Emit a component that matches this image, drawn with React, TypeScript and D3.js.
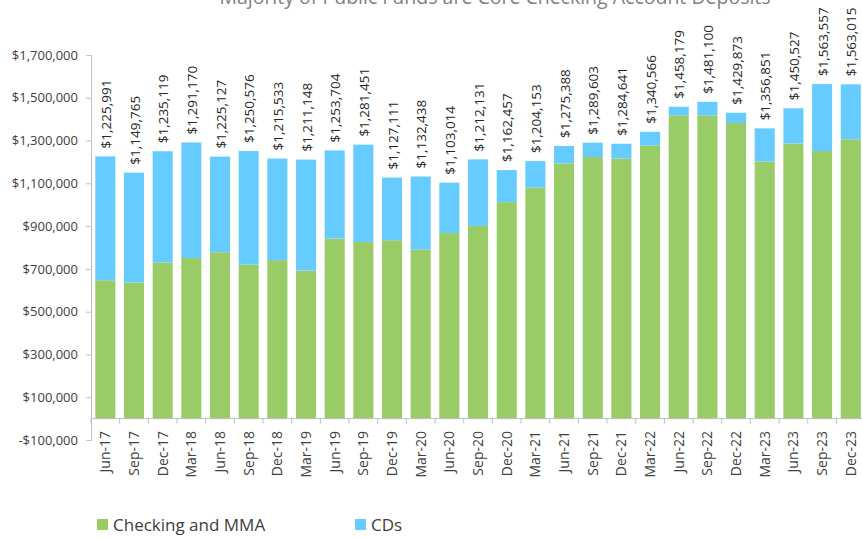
import { useRef, useEffect } from "react";
import * as d3 from "d3";

const categories = [
  "Jun-17", "Sep-17", "Dec-17", "Mar-18", "Jun-18", "Sep-18", "Dec-18",
  "Mar-19", "Jun-19", "Sep-19", "Dec-19", "Mar-20", "Jun-20", "Sep-20",
  "Dec-20", "Mar-21", "Jun-21", "Sep-21", "Dec-21", "Mar-22", "Jun-22",
  "Sep-22", "Dec-22", "Mar-23", "Jun-23", "Sep-23", "Dec-23",
];

// Checking and MMA (green)
const checking = [
  647000, 636000, 730000, 751000, 778000, 720000, 741000, 692000, 842000,
  826000, 834000, 790000, 868000, 901000, 1012000, 1080000, 1193000, 1223000,
  1216000, 1277000, 1418000, 1418000, 1382000, 1202000, 1286000, 1251000,
  1306000,
];

// CDs (blue)
const cds = [
  579000, 514000, 520000, 540000, 447000, 531000, 475000, 519000, 412000,
  455000, 293000, 342000, 235000, 311000, 150000, 124000, 82000, 67000,
  69000, 64000, 40000, 63000, 48000, 155000, 165000, 313000, 257000,
];

// labels printed above each bar
const totals = [
  1225991, 1149765, 1235119, 1291170, 1225127, 1250576, 1215533, 1211148,
  1253704, 1281451, 1127111, 1132438, 1103014, 1212131, 1162457, 1204153,
  1275388, 1289603, 1284641, 1340566, 1458179, 1481100, 1429873, 1356851,
  1450527, 1563557, 1563015,
];

const yTicks = [
  -100000, 100000, 300000, 500000, 700000, 900000, 1100000, 1300000, 1500000,
  1700000,
];

const seriesNames = ["Checking and MMA", "CDs"];
const colors = ["#99CC66", "#66CCFF"];

const width = 862;
const height = 539;
const font = "'Open Sans', 'Noto Sans', sans-serif";

function App() {
  const svgRef = useRef<SVGSVGElement>(null);

  useEffect(() => {
    const svg = d3.select(svgRef.current);
    svg.selectAll("*").remove();

    const left = 91;
    const step = 28.67;
    const x = d3
      .scaleBand()
      .domain(categories)
      .range([left, left + step * categories.length])
      .paddingInner(0.3)
      .paddingOuter(0.15);

    const y = d3.scaleLinear().domain([-100000, 1700000]).range([440, 55]);

    const fmt = d3.format(",");
    const money = (v: number) => (v < 0 ? "-$" + fmt(-v) : "$" + fmt(v));

    // title (cut at the top in the original)
    svg
      .append("text")
      .attr("x", 495)
      .attr("y", 4)
      .attr("text-anchor", "middle")
      .attr("font-family", font)
      .attr("font-size", 19.5)
      .attr("fill", "#808080")
      .text("Majority of Public Funds are Core Checking Account Deposits");

    const rows = categories.map((c, i) => ({
      cat: c,
      checking: checking[i],
      cds: cds[i],
      total: totals[i],
    }));

    const stacked = d3.stack<any>().keys(["checking", "cds"])(rows);

    svg
      .append("g")
      .selectAll("g")
      .data(stacked)
      .join("g")
      .attr("fill", (_d, i) => colors[i])
      .selectAll("rect")
      .data((d) => d)
      .join("rect")
      .attr("x", (d: any) => x(d.data.cat)!)
      .attr("width", x.bandwidth())
      .attr("y", (d) => y(d[1]))
      .attr("height", (d) => y(d[0]) - y(d[1]));

    // y axis
    const yAxis = svg.append("g").attr("transform", `translate(${left},0)`);
    yAxis
      .call(
        d3
          .axisLeft(y)
          .tickValues(yTicks)
          .tickSize(5)
          .tickPadding(8)
          .tickFormat((v) => money(+v))
      )
      .call((g) => g.select(".domain").attr("stroke", "#BFBFBF"))
      .call((g) => g.selectAll(".tick line").attr("stroke", "#BFBFBF"))
      .call((g) =>
        g
          .selectAll(".tick text")
          .attr("font-family", font)
          .attr("font-size", 13)
          .attr("fill", "#404040")
      );

    // x axis at zero with ticks between bars
    const y0 = y(0);
    svg
      .append("line")
      .attr("x1", left)
      .attr("x2", width)
      .attr("y1", y0)
      .attr("y2", y0)
      .attr("stroke", "#BFBFBF");
    svg
      .append("g")
      .selectAll("line")
      .data(d3.range(categories.length + 1))
      .join("line")
      .attr("x1", (k) => left + k * x.step())
      .attr("x2", (k) => left + k * x.step())
      .attr("y1", y0)
      .attr("y2", y0 + 5)
      .attr("stroke", "#BFBFBF");

    svg
      .append("g")
      .selectAll("text")
      .data(categories)
      .join("text")
      .attr(
        "transform",
        (c) => `translate(${x(c)! + x.bandwidth() / 2},431) rotate(-90)`
      )
      .attr("dy", "0.35em")
      .attr("text-anchor", "end")
      .attr("font-family", font)
      .attr("font-size", 14)
      .attr("fill", "#404040")
      .text((c) => c);

    // value labels
    svg
      .append("g")
      .selectAll("text")
      .data(rows)
      .join("text")
      .attr(
        "transform",
        (d) =>
          `translate(${x(d.cat)! + x.bandwidth() / 2 + 1},${
            y(d.checking + d.cds) - 8
          }) rotate(-90)`
      )
      .attr("dy", "0.35em")
      .attr("font-family", font)
      .attr("font-size", 13.5)
      .attr("fill", "#262626")
      .text((d) => money(d.total));

    // legend
    const legendX = [97, 355];
    const legend = svg
      .append("g")
      .selectAll("g")
      .data(seriesNames)
      .join("g")
      .attr("transform", (_d, i) => `translate(${legendX[i]},519)`);
    legend
      .append("rect")
      .attr("width", 11)
      .attr("height", 11)
      .attr("fill", (_d, i) => colors[i]);
    legend
      .append("text")
      .attr("x", 16)
      .attr("y", 11.5)
      .attr("font-family", font)
      .attr("font-size", 17)
      .attr("fill", "#404040")
      .text((d) => d);
  }, []);

  return (
    <svg
      ref={svgRef}
      width={width}
      height={height}
      style={{ position: "absolute", left: 0, top: 0, background: "#fff" }}
    />
  );
}

export default App;
